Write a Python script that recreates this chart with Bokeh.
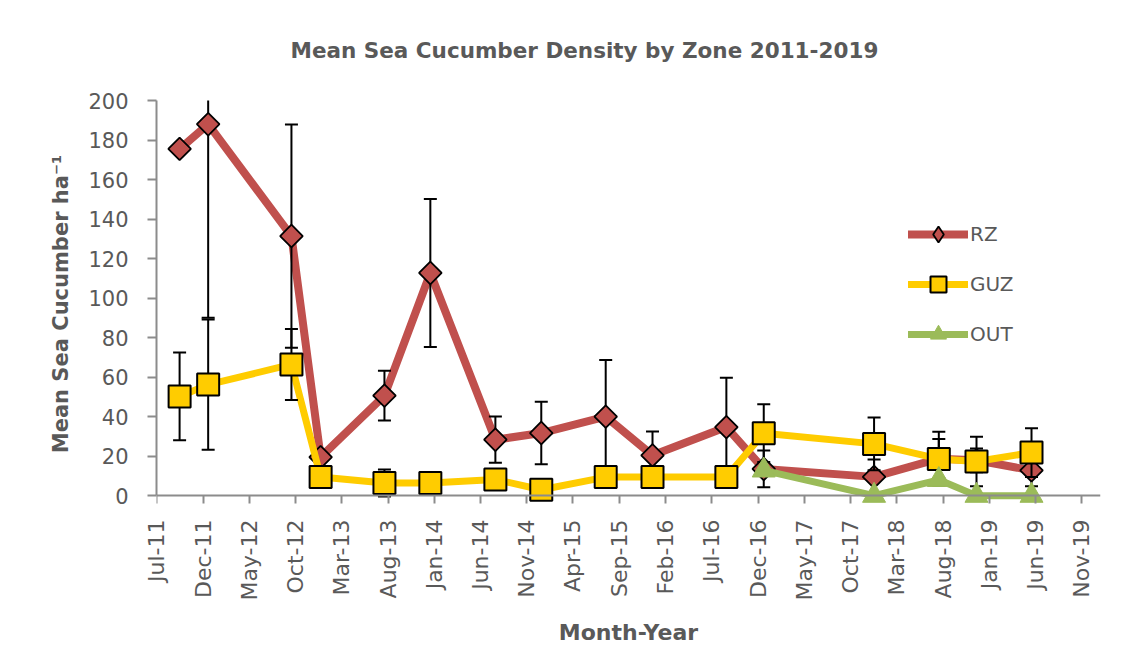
import math
from datetime import datetime

from bokeh.plotting import figure
from bokeh.models import (Range1d, FixedTicker, DatetimeTickFormatter, Legend, LegendItem,
                          DatetimeAxis)
from bokeh.embed import file_html
from bokeh.resources import INLINE

# ---------------- data ----------------
TITLE = "Mean Sea Cucumber Density by Zone 2011-2019"
X_LABEL = "Month-Year"
Y_LABEL = "Mean Sea Cucumber ha\u207b\u00b9"

SAMPLE_DATES = ["2011-09-15", "2011-12-18", "2012-09-17", "2012-12-22",
                "2013-07-20", "2013-12-18", "2014-07-20", "2014-12-18",
                "2015-07-18", "2015-12-19", "2016-08-18", "2016-12-19",
                "2017-12-17", "2018-07-18", "2018-11-19", "2019-05-19"]

RZ_MEAN = [175.5, 188.0, 131.4, 19.5, 50.6, 112.7, 28.3, 31.7,
           40.0, 20.4, 34.7, 13.5, 9.5, 18.7, 17.9, 12.8]
RZ_ERR = [None, 98.0, 56.5, None, 12.6, 37.5, 11.7, 15.8,
          28.7, 12.1, 25.0, 9.3, 8.8, 10.0, 6.0, 8.1]

GUZ_MEAN = [50.2, 56.2, 66.4, 9.4, 6.4, 6.4, 8.2, 3.0,
            9.4, 9.4, 9.4, 31.6, 26.2, 18.6, 17.3, 21.8]
GUZ_ERR = [22.2, 33.0, 18.0, None, 6.8, None, None, None,
           None, None, None, 14.6, 13.4, 13.7, 12.5, 12.3]

OUT_DATES = ["2016-12-19", "2017-12-17", "2018-07-18", "2018-11-19", "2019-05-19"]
OUT_MEAN = [12.8, 0.0, 8.0, 0.0, 0.0]

XTICK_LABELS = ["Jul-11", "Dec-11", "May-12", "Oct-12", "Mar-13", "Aug-13", "Jan-14",
                "Jun-14", "Nov-14", "Apr-15", "Sep-15", "Feb-16", "Jul-16", "Dec-16",
                "May-17", "Oct-17", "Mar-18", "Aug-18", "Jan-19", "Jun-19", "Nov-19"]
YTICKS = [0, 20, 40, 60, 80, 100, 120, 140, 160, 180, 200]

X_START = "2011-07-01"
X_END = "2020-01-01"

# ---------------- styles ----------------
RZ_COLOR = "#C0504D"
GUZ_COLOR = "#FFCC00"
OUT_COLOR = "#9BBB59"
TEXT = "#595959"
AXIS = "#8C8C8C"
FONT = "DejaVu Sans"


def d(s):
    return datetime.strptime(s, "%Y-%m-%d")


def ms(dt):
    return (dt - datetime(1970, 1, 1)).total_seconds() * 1000.0


dates = [d(s) for s in SAMPLE_DATES]
out_dates = [d(s) for s in OUT_DATES]
tick_ms = [ms(datetime.strptime(t, "%b-%y")) for t in XTICK_LABELS]
fmt = "%b-%y"


def month_formatter():
    return DatetimeTickFormatter(microseconds=fmt, milliseconds=fmt, seconds=fmt,
                                 minsec=fmt, minutes=fmt, hourmin=fmt, hours=fmt,
                                 days=fmt, months=fmt, years=fmt)


p = figure(width=1140, height=650, x_axis_type="datetime",
           x_range=Range1d(d(X_START), d(X_END)), y_range=Range1d(-6, 200),
           output_backend="svg", toolbar_location=None,
           min_border_left=156, min_border_right=40,
           min_border_top=100, min_border_bottom=143)

p.outline_line_color = None
p.xgrid.grid_line_color = None
p.ygrid.grid_line_color = None
p.background_fill_color = "white"
p.border_fill_color = "white"

# title
p.title.text = TITLE
p.title.align = "left"
p.title.offset = 134
p.title.text_font = FONT
p.title.text_font_style = "bold"
p.title.text_font_size = "21.5px"
p.title.text_color = TEXT
p.title.vertical_align = "top"
p.title.standoff = 72

# x axis (labels) at the frame bottom
xa = p.xaxis[0]
xa.ticker = FixedTicker(ticks=tick_ms)
xa.formatter = month_formatter()
xa.major_label_orientation = math.pi / 2
xa.axis_line_color = None
xa.major_tick_line_color = None
xa.major_tick_out = 0
xa.major_tick_in = 0
xa.minor_tick_line_color = None
xa.major_label_text_font = FONT
xa.major_label_text_font_size = "22px"
xa.major_label_text_color = TEXT
xa.major_label_standoff = 12
xa.axis_label = X_LABEL
xa.axis_label_text_font = FONT
xa.axis_label_text_font_style = "bold"
xa.axis_label_text_font_size = "22px"
xa.axis_label_text_color = TEXT
xa.axis_label_standoff = 16

# x axis line and ticks at y = 0
x0axis = DatetimeAxis(ticker=FixedTicker(ticks=tick_ms), formatter=month_formatter(),
                      fixed_location=0, axis_line_color=AXIS, axis_line_width=2,
                      major_tick_line_color=AXIS, major_tick_line_width=2,
                      major_tick_in=8, major_tick_out=0, minor_tick_line_color=None,
                      major_label_text_font_size="1px", major_label_text_color=None,
                      major_label_standoff=0)
p.add_layout(x0axis, "above")

# y axis
ya = p.yaxis[0]
ya.ticker = FixedTicker(ticks=YTICKS)
ya.bounds = (0, 200)
ya.axis_line_color = AXIS
ya.axis_line_width = 2
ya.major_tick_line_color = AXIS
ya.major_tick_line_width = 2
ya.major_tick_out = 9
ya.major_tick_in = 0
ya.minor_tick_line_color = None
ya.major_label_text_font = FONT
ya.major_label_text_font_size = "21px"
ya.major_label_text_color = TEXT
ya.major_label_standoff = 19
ya.axis_label = Y_LABEL
ya.axis_label_text_font = FONT
ya.axis_label_text_font_style = "bold"
ya.axis_label_text_font_size = "21px"
ya.axis_label_text_color = TEXT
ya.axis_label_standoff = 12


def error_bars(xs, means, errs):
    idx = [i for i, e in enumerate(errs) if e is not None]
    bx = [xs[i] for i in idx]
    lo = [means[i] - errs[i] for i in idx]
    hi = [means[i] + errs[i] for i in idx]
    p.segment(x0=bx, y0=lo, x1=bx, y1=hi, line_color="black", line_width=2)
    p.scatter(x=bx + bx, y=lo + hi, marker="dash", size=13,
              line_color="black", line_width=2)


# RZ
rz_line = p.line(dates, RZ_MEAN, line_color=RZ_COLOR, line_width=8,
                 line_join="round", line_cap="round")
error_bars(dates, RZ_MEAN, RZ_ERR)
# small diamonds (hidden under the rotated squares) give the legend its diamond
rz_key = p.scatter(dates, RZ_MEAN, marker="diamond", size=10,
                   fill_color=RZ_COLOR, line_color="black", line_width=1.8)
rz_pts = p.scatter(dates, RZ_MEAN, marker="square", angle=math.pi / 4, size=16,
                   fill_color=RZ_COLOR, line_color="black", line_width=1.8)

# GUZ
guz_line = p.line(dates, GUZ_MEAN, line_color=GUZ_COLOR, line_width=7,
                  line_join="round", line_cap="round")
error_bars(dates, GUZ_MEAN, GUZ_ERR)
guz_pts = p.scatter(dates, GUZ_MEAN, marker="square", size=22,
                    fill_color=GUZ_COLOR, line_color="black", line_width=2)

# OUT
out_line = p.line(out_dates, OUT_MEAN, line_color=OUT_COLOR, line_width=7,
                  line_join="round", line_cap="round")
out_pts = p.scatter(out_dates, OUT_MEAN, marker="triangle", size=23,
                    fill_color=OUT_COLOR, line_color=OUT_COLOR, line_width=1)

legend = Legend(items=[LegendItem(label="RZ", renderers=[rz_line, rz_key]),
                       LegendItem(label="GUZ", renderers=[guz_line, guz_pts]),
                       LegendItem(label="OUT", renderers=[out_line, out_pts])],
                location=(752, 153), glyph_width=60, glyph_height=40, label_height=40,
                label_standoff=2, spacing=10, padding=0, margin=0,
                border_line_color=None, background_fill_alpha=0,
                label_text_font=FONT, label_text_font_size="20px",
                label_text_color=TEXT)
p.add_layout(legend)

open("out.html", "w").write(file_html(p, INLINE))
